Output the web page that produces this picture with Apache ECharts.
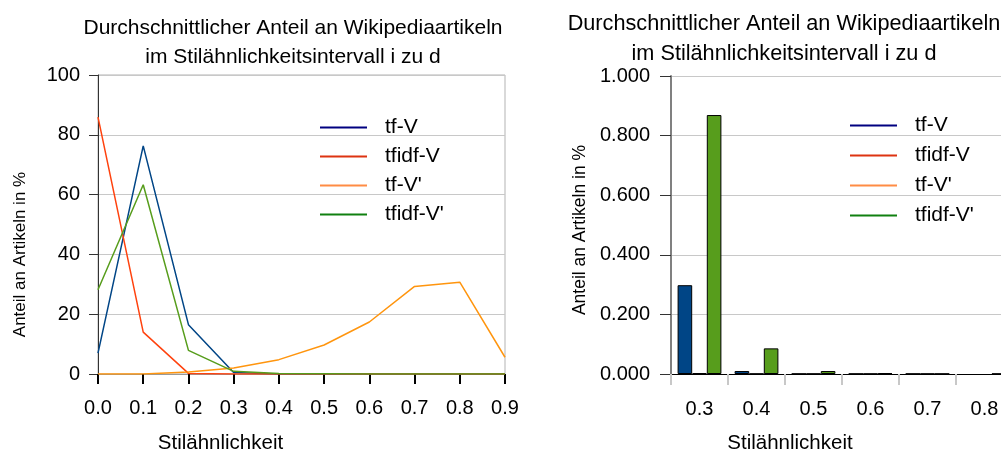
<!DOCTYPE html>
<html>
<head>
<meta charset="utf-8">
<script src="https://cdn.jsdelivr.net/npm/echarts@6/dist/echarts.min.js"></script>
<style>
  html, body { margin: 0; padding: 0; background: #fff; }
  #chart { width: 1001px; height: 452px; }
</style>
</head>
<body>
<div id="chart"></div>
<script>
// left chart: share of articles per similarity interval (%)
const leftCats = ['0.0', '0.1', '0.2', '0.3', '0.4', '0.5', '0.6', '0.7', '0.8', '0.9'];
const tfV      = [7.0, 76.3, 16.5, 0.5, 0, 0, 0, 0, 0, 0];
const tfidfV   = [85.9, 14.0, 0.2, 0, 0, 0, 0, 0, 0, 0];
const tfV2     = [0, 0, 0.7, 2.0, 4.8, 9.7, 17.4, 29.3, 30.7, 5.6];
const tfidfV2  = [28.2, 63.3, 7.9, 0.9, 0.2, 0.1, 0, 0, 0, 0];

// right chart: zoom on 0.3 .. 0.8
const rightCats   = ['0.3', '0.4', '0.5', '0.6', '0.7', '0.8'];
const rTfV        = [0.298, 0.010, 0.001, 0.001, 0.001, null];
const rTfidfV     = [0.003, 0.001, 0.001, 0.001, 0.001, null];
const rTfV2       = [null, null, null, null, null, null];
const rTfidfV2    = [0.869, 0.086, 0.010, 0.003, 0.001, 0.001];

const names = ['tf-V', 'tfidf-V', "tf-V'", "tfidf-V'"];
const colors = ['#004586', '#ff420e', '#ff950e', '#579d1c'];
const legendColors = ['#000080', '#dd3311', '#ff8c44', '#108010'];

const font = 'Liberation Sans';
const txt = '#000';

var chart = echarts.init(document.getElementById('chart'), null, { renderer: 'canvas' });

function legendFor(left, top, gap) {
  return {
    orient: 'vertical',
    left: left,
    top: top,
    padding: 0,
    itemWidth: 47,
    itemHeight: 2,
    itemGap: gap,
    icon: 'rect',
    textStyle: { fontFamily: font, fontSize: 21, color: txt, lineHeight: 20, padding: [0, 0, 0, 13] },
    data: names.map((n, i) => ({ name: n, itemStyle: { color: legendColors[i] } }))
  };
}

var option = {
  backgroundColor: '#fff',
  animation: false,
  title: [{
    text: 'Durchschnittlicher Anteil an Wikipediaartikeln\nim Stilähnlichkeitsintervall i zu d',
    left: 293, top: 14, textAlign: 'center', padding: 0,
    textStyle: { fontFamily: font, fontSize: 21, fontWeight: 'normal', color: txt, lineHeight: 29 }
  }, {
    text: 'Durchschnittlicher Anteil an Wikipediaartikeln\nim Stilähnlichkeitsintervall i zu d',
    left: 784, top: 9, textAlign: 'center', padding: 0,
    textStyle: { fontFamily: font, fontSize: 21.7, fontWeight: 'normal', color: txt, lineHeight: 30 }
  }],
  legend: [legendFor(320, 117, 8), legendFor(850, 115, 9)],
  grid: [
    { left: 98, top: 75, width: 407, height: 299, outerBoundsMode: 'none', containLabel: false,
      show: true, borderColor: '#b3b3b3', borderWidth: 1 },
    { left: 671, top: 76, width: 342, height: 298, outerBoundsMode: 'none', containLabel: false }
  ],
  xAxis: [{
    gridIndex: 0,
    type: 'category',
    data: leftCats,
    boundaryGap: false,
    axisLine: { lineStyle: { color: '#999', width: 1 } },
    axisTick: { show: true, length: 10, lineStyle: { color: '#000', width: 2 } },
    axisLabel: { fontFamily: font, fontSize: 20, color: txt, margin: 24 },
    name: 'Stilähnlichkeit',
    nameLocation: 'middle',
    nameGap: 59,
    nameTextStyle: { fontFamily: font, fontSize: 20.5, color: txt, padding: [0, 162, 0, 0] }
  }, {
    gridIndex: 1,
    type: 'category',
    data: rightCats,
    axisLine: { lineStyle: { color: '#000', width: 1 } },
    axisTick: { show: true, length: 11, lineStyle: { color: '#c8c8c8', width: 2 } },
    axisLabel: { fontFamily: font, fontSize: 20, color: txt, margin: 25 },
    name: 'Stilähnlichkeit',
    nameLocation: 'middle',
    nameGap: 59,
    nameTextStyle: { fontFamily: font, fontSize: 20.5, color: txt, padding: [0, 104, 0, 0] }
  }],
  yAxis: [{
    gridIndex: 0,
    type: 'value',
    min: 0, max: 100, interval: 20,
    axisLine: { show: true, lineStyle: { color: '#333', width: 1 } },
    axisTick: { show: true, length: 9, lineStyle: { color: '#333' } },
    splitLine: { lineStyle: { color: '#c8c8c8', width: 1 } },
    axisLabel: { fontFamily: font, fontSize: 20, color: txt, margin: 18 },
    name: 'Anteil an Artikeln in %',
    nameLocation: 'middle',
    nameGap: 69,
    nameTextStyle: { fontFamily: font, fontSize: 17, color: txt, padding: [0, 60, 0, 0] }
  }, {
    gridIndex: 1,
    type: 'value',
    min: 0, max: 1, interval: 0.2,
    axisLine: { show: true, lineStyle: { color: '#808080', width: 2 } },
    axisTick: { show: true, length: 11, lineStyle: { color: '#333' } },
    splitLine: { lineStyle: { color: '#c8c8c8', width: 1 } },
    axisLabel: { fontFamily: font, fontSize: 20, color: txt, margin: 21, formatter: v => v.toFixed(3) },
    name: 'Anteil an Artikeln in %',
    nameLocation: 'middle',
    nameGap: 82,
    nameTextStyle: { fontFamily: font, fontSize: 17.5, color: txt, padding: [0, 10, 0, 0] }
  }],
  series: [
    { name: names[0], type: 'line', xAxisIndex: 0, yAxisIndex: 0, data: tfV, symbol: 'none', lineStyle: { color: colors[0], width: 1.5 }, itemStyle: { color: colors[0] } },
    { name: names[1], type: 'line', xAxisIndex: 0, yAxisIndex: 0, data: tfidfV, symbol: 'none', lineStyle: { color: colors[1], width: 1.5 }, itemStyle: { color: colors[1] } },
    { name: names[2], type: 'line', xAxisIndex: 0, yAxisIndex: 0, data: tfV2, symbol: 'none', lineStyle: { color: colors[2], width: 1.5 }, itemStyle: { color: colors[2] } },
    { name: names[3], type: 'line', xAxisIndex: 0, yAxisIndex: 0, data: tfidfV2, symbol: 'none', lineStyle: { color: colors[3], width: 1.5 }, itemStyle: { color: colors[3] } },

    { name: names[0], type: 'bar', xAxisIndex: 1, yAxisIndex: 1, data: rTfV, barWidth: 14.6, barGap: '0%', itemStyle: { color: colors[0], borderColor: '#000', borderWidth: 1 } },
    { name: names[1], type: 'bar', xAxisIndex: 1, yAxisIndex: 1, data: rTfidfV, barWidth: 14.6, barGap: '0%', itemStyle: { color: colors[1], borderColor: '#000', borderWidth: 1 } },
    { name: names[2], type: 'line', xAxisIndex: 1, yAxisIndex: 1, data: rTfV2, symbol: 'none', lineStyle: { color: colors[2] }, itemStyle: { color: colors[2] } },
    { name: names[3], type: 'bar', xAxisIndex: 1, yAxisIndex: 1, data: rTfidfV2, barWidth: 14.6, barGap: '0%', itemStyle: { color: colors[3], borderColor: '#000', borderWidth: 1 } }
  ]
};

chart.setOption(option);
</script>
</body>
</html>
